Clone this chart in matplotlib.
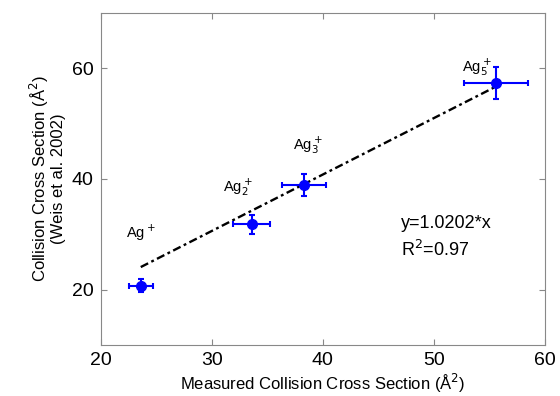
import numpy as np
import matplotlib
matplotlib.use("Agg")
import matplotlib.pyplot as plt

plt.rcParams["font.family"] = ["Liberation Sans", "DejaVu Sans"]

# ── data ─────────────────────────────────────────────────────────────────────
labels   = ["Ag$^+$", "Ag$_2^+$", "Ag$_3^+$", "Ag$_5^+$"]
measured = np.array([23.6, 33.6, 38.3, 55.6])
measured_err = np.array([1.1, 1.65, 2.0, 2.9])
weis     = np.array([20.7, 31.8, 38.9, 57.4])
weis_err = np.array([1.2, 1.7, 2.0, 2.9])
slope    = 1.0202
r2       = 0.97

label_pos = [(22.3, 30.2), (31.0, 38.5), (37.3, 46.2), (52.5, 60.3)]

fig = plt.figure(figsize=(5.6, 3.96), dpi=100)
ax = fig.add_axes([0.180, 0.129, 0.793, 0.838])

fit_x = np.array([measured.min(), measured.max()])
ax.plot(fit_x, slope * fit_x, color="black", lw=1.7, zorder=2,
        dashes=(3.5, 1.5, 1.2, 1.5))

ax.errorbar(measured, weis, xerr=measured_err, yerr=weis_err,
            fmt="o", color="blue", ms=7, elinewidth=1.5, capsize=2.5,
            capthick=1.5, zorder=3)

for lab, (lx, ly) in zip(labels, label_pos):
    ax.text(lx, ly, lab, fontsize=10.5, ha="left", va="center")

ax.text(47.0, 32.0, "y=1.0202*x", fontsize=13, va="center")
ax.text(47.0, 27.2, f"R$^2$={r2}", fontsize=13, va="center")

ax.set_xlim(20, 60)
ax.set_ylim(10, 70)
ax.set_xticks([20, 30, 40, 50, 60])
ax.set_yticks([20, 40, 60])
ax.tick_params(direction="in", length=4, labelsize=14, color="#888888",
               top=True, right=True, pad=5)
for s in ax.spines.values():
    s.set_color("#888888")

ax.set_xlabel("Measured Collision Cross Section (Å$^2$)", fontsize=12,
              labelpad=2)
ax.set_ylabel("Collision Cross Section (Å$^2$)\n(Weis et al. 2002)",
              fontsize=12, labelpad=4, linespacing=1.0)

fig.savefig("out.png", dpi=100)
